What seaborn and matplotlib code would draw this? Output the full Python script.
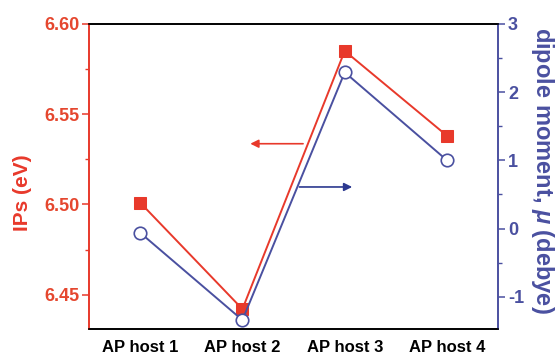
import numpy as np
import pandas as pd
import seaborn as sns
import matplotlib.pyplot as plt

hosts = ['AP host 1', 'AP host 2', 'AP host 3', 'AP host 4']
ips_ev = [6.501, 6.442, 6.585, 6.538]
dipole_debye = [-0.06, -1.34, 2.29, 1.0]

RED = '#e8392b'
REDTXT = '#e5472f'
BLUE = '#4a50a0'
BLUEARROW = '#2c3990'

sns.set_style('white')
plt.rcParams['font.family'] = ['Liberation Sans', 'DejaVu Sans']
plt.rcParams['font.weight'] = 'bold'
plt.rcParams['mathtext.fontset'] = 'custom'
plt.rcParams['mathtext.it'] = 'Liberation Sans:italic:bold'
plt.rcParams['mathtext.rm'] = 'Liberation Sans:bold'

df = pd.DataFrame({'pos': np.arange(len(hosts)), 'host': hosts,
                   'ip': ips_ev, 'dipole': dipole_debye})

fig = plt.figure(figsize=(5.56, 3.56), dpi=100)
ax = fig.add_axes([0.16, 0.076, 0.736, 0.857])
ax2 = ax.twinx()

sns.lineplot(data=df, x='pos', y='ip', ax=ax, color=RED, lw=1.4,
             marker='s', markersize=8, markeredgecolor=RED, markerfacecolor=RED, zorder=3)
sns.lineplot(data=df, x='pos', y='dipole', ax=ax2, color=BLUE, lw=1.4,
             marker='o', markersize=9, markeredgecolor=BLUE, markerfacecolor='white',
             markeredgewidth=1.2, zorder=3)

ax.set_xlim(-0.5, 3.5)
ax.set_ylim(6.431, 6.60)
ax2.set_ylim(-1.47, 3.0)

ax.set_xticks(df['pos'])
ax.set_xticklabels(hosts, fontsize=12, fontweight='bold', color='black')
ax.set_xlabel('')
ax.set_yticks([6.45, 6.50, 6.55, 6.60])
ax.set_yticklabels(['6.45', '6.50', '6.55', '6.60'], fontsize=13, fontweight='bold', color=REDTXT)
ax.set_yticks([6.475, 6.525, 6.575], minor=True)
ax2.set_yticks([-1, 0, 1, 2, 3])
ax2.set_yticklabels(['-1', '0', '1', '2', '3'], fontsize=13, fontweight='bold', color=BLUE)
ax2.set_yticks([-0.5, 0.5, 1.5, 2.5], minor=True)

ax.set_ylabel('IPs (eV)', fontsize=15, fontweight='bold', color=RED, va='center', ha='center')
ax.yaxis.set_label_coords(-0.163, 0.446)
ax2.set_ylabel(r'dipole moment, $\mu$ (debye)', fontsize=17, fontweight='bold',
               color=BLUE, rotation=-90, va='center', ha='center')
ax2.yaxis.set_label_coords(1.108, 0.518)

for a in (ax, ax2):
    for s in a.spines.values():
        s.set_visible(True)
        s.set_linewidth(1.2)
    a.spines['top'].set_color('black')
    a.spines['bottom'].set_color('black')
    a.spines['left'].set_color(RED)
    a.spines['right'].set_color(BLUE)
    a.grid(False)

ax.tick_params(axis='x', direction='out', length=5, width=1.2, color='black', pad=3)
ax.tick_params(axis='y', which='major', direction='out', length=5, width=1.1, color=RED, pad=2)
ax.tick_params(axis='y', which='minor', left=True, direction='out', length=3, width=1.0, color=RED)
ax2.tick_params(axis='y', which='major', direction='out', length=5, width=1.1, color=BLUE, pad=2)
ax2.tick_params(axis='y', which='minor', right=True, direction='out', length=3, width=1.0, color=BLUE)

ax.annotate('', xy=(1.05, 6.5336), xytext=(1.62, 6.5336),
            arrowprops=dict(arrowstyle='-|>', color=RED, lw=1.2, mutation_scale=12))
ax2.annotate('', xy=(2.10, 0.61), xytext=(1.53, 0.61),
             arrowprops=dict(arrowstyle='-|>', color=BLUEARROW, lw=1.2, mutation_scale=12))

fig.savefig('out.png', dpi=100)
